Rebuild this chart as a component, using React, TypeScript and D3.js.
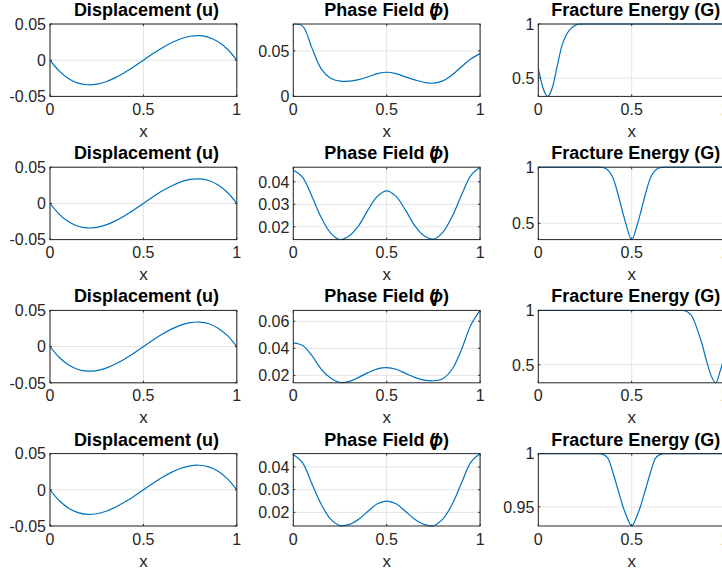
import React from "react";
import * as d3 from "d3";

// ---------- data ----------
const X21 = [0, 0.05, 0.1, 0.15, 0.2, 0.25, 0.3, 0.35, 0.4, 0.45, 0.5, 0.55, 0.6, 0.65, 0.7, 0.75, 0.8, 0.85, 0.9, 0.95, 1];

const U = [0, -0.0151, -0.0255, -0.0316, -0.0339, -0.0331, -0.0297, -0.0241, -0.017, -0.0088, 0, 0.0088, 0.017, 0.0241, 0.0297, 0.0331, 0.0339, 0.0316, 0.0255, 0.0151, 0];
const U_TICKS = [-0.05, 0, 0.05];
const U_LABELS = ["-0.05", "0", "0.05"];

const PHI1 = [0.0795, 0.0772, 0.0530, 0.0300, 0.0200, 0.0168, 0.0168, 0.0185, 0.0215, 0.0250, 0.0265, 0.0250, 0.0215, 0.0182, 0.0155, 0.0145, 0.0170, 0.0235, 0.0325, 0.0410, 0.0470];
const PHI2 = [0.0453, 0.0420, 0.0335, 0.0240, 0.0172, 0.0143, 0.0160, 0.0205, 0.0275, 0.0335, 0.0360, 0.0335, 0.0275, 0.0205, 0.0160, 0.0145, 0.0175, 0.0245, 0.0340, 0.0428, 0.0465];
const PHI3 = [0.0440, 0.0420, 0.0345, 0.0245, 0.0180, 0.0147, 0.0155, 0.0185, 0.0220, 0.0248, 0.0257, 0.0245, 0.0215, 0.0185, 0.0165, 0.0160, 0.0175, 0.0245, 0.0390, 0.0570, 0.0680];
const PHI4 = [0.0455, 0.0418, 0.0325, 0.0235, 0.0170, 0.0142, 0.0147, 0.0170, 0.0205, 0.0238, 0.0250, 0.0238, 0.0205, 0.0170, 0.0147, 0.0141, 0.0170, 0.0235, 0.0328, 0.0420, 0.0459];
const PHI_DOMAINS = [[0, 0.0795], [0.0143, 0.0465], [0.0145, 0.068], [0.014, 0.0459]];
const PHI_TICKS = [[0, 0.05], [0.02, 0.03, 0.04], [0.02, 0.04, 0.06], [0.02, 0.03, 0.04]];
const PHI_LABELS = [["0", "0.05"], ["0.02", "0.03", "0.04"], ["0.02", "0.04", "0.06"], ["0.02", "0.03", "0.04"]];

const G1_X = [0, 0.025, 0.05, 0.075, 0.1, 0.125, 0.15, 0.175, 0.2, 0.225, 0.25, 0.5, 0.75, 1];
const G1_Y = [0.59, 0.41, 0.33, 0.41, 0.6, 0.79, 0.9, 0.96, 0.99, 0.999, 1, 1, 1, 1];
const G2_X = [0, 0.25, 0.325, 0.35, 0.375, 0.4, 0.425, 0.45, 0.475, 0.5, 0.525, 0.55, 0.575, 0.6, 0.625, 0.65, 0.675, 0.75, 1];
const G2_Y = [1, 1, 1, 0.995, 0.97, 0.905, 0.77, 0.61, 0.46, 0.355, 0.46, 0.61, 0.77, 0.905, 0.97, 0.995, 1, 1, 1];
const G3_X = [0, 0.25, 0.5, 0.75, 0.775, 0.8, 0.825, 0.85, 0.875, 0.9, 0.925, 0.95, 0.975, 1];
const G3_Y = [1, 1, 1, 1, 0.999, 0.985, 0.94, 0.83, 0.70, 0.54, 0.40, 0.334, 0.45, 0.60];
const G4_X = [0, 0.25, 0.325, 0.35, 0.375, 0.4, 0.425, 0.45, 0.475, 0.5, 0.525, 0.55, 0.575, 0.6, 0.625, 0.65, 0.675, 0.75, 1];
const G4_Y = [1, 1, 1, 0.999, 0.995, 0.982, 0.967, 0.952, 0.94, 0.932, 0.94, 0.952, 0.967, 0.982, 0.995, 0.999, 1, 1, 1];
const G_DOMAINS = [[0.33, 1], [0.355, 1], [0.334, 1], [0.932, 1]];
const G_TICKS = [[0.5, 1], [0.5, 1], [0.5, 1], [0.95, 1]];
const G_LABELS = [["0.5", "1"], ["0.5", "1"], ["0.5", "1"], ["0.95", "1"]];

const X_TICKS = [0, 0.5, 1];
const X_LABELS = ["0", "0.5", "1"];

// ---------- layout ----------
const COL_LEFT = [50, 293.3, 538.3];
const ROW_TOP = [24, 167.2, 310.4, 453.6];
const AX_W = 186.8;
const AX_H = 72.4;
const FONT = "'Liberation Sans', Arial, Helvetica, sans-serif";
const AX_COLOR = "#262626";
const GRID_COLOR = "#e4e4e4";
const LINE_COLOR = "#0072BD";

type PanelProps = {
  id: string;
  left: number;
  top: number;
  xs: number[];
  ys: number[];
  yDomain: number[];
  yTicks: number[];
  yLabels: string[];
  title: React.ReactNode;
  titleDx: number;
  curve: d3.CurveFactory;
};

function Panel(p: PanelProps) {
  const x = d3.scaleLinear().domain([0, 1]).range([p.left, p.left + AX_W]);
  const y = d3.scaleLinear().domain(p.yDomain as [number, number]).range([p.top + AX_H, p.top]);
  const line = d3
    .line<number>()
    .x((_, i) => x(p.xs[i]))
    .y((d) => y(d))
    .curve(p.curve);
  const bottom = p.top + AX_H;
  const right = p.left + AX_W;
  const tl = 2;
  return (
    <g>
      <defs>
        <clipPath id={p.id}>
          <rect x={p.left} y={p.top - 1} width={AX_W} height={AX_H + 2} />
        </clipPath>
      </defs>
      {/* grid */}
      {X_TICKS.map((t, i) => (
        <line key={"gx" + i} x1={x(t)} x2={x(t)} y1={p.top} y2={bottom} stroke={GRID_COLOR} strokeWidth={1} />
      ))}
      {p.yTicks.map((t, i) => (
        <line key={"gy" + i} x1={p.left} x2={right} y1={y(t)} y2={y(t)} stroke={GRID_COLOR} strokeWidth={1} />
      ))}
      {/* data */}
      <path d={line(p.ys) || ""} fill="none" stroke={LINE_COLOR} strokeWidth={1.2} clipPath={`url(#${p.id})`} />
      {/* box */}
      <rect x={p.left} y={p.top} width={AX_W} height={AX_H} fill="none" stroke={AX_COLOR} strokeWidth={1} />
      {/* ticks */}
      {X_TICKS.map((t, i) => (
        <g key={"tx" + i}>
          <line x1={x(t)} x2={x(t)} y1={bottom} y2={bottom - tl} stroke={AX_COLOR} />
          <line x1={x(t)} x2={x(t)} y1={p.top} y2={p.top + tl} stroke={AX_COLOR} />
        </g>
      ))}
      {p.yTicks.map((t, i) => (
        <g key={"ty" + i}>
          <line x1={p.left} x2={p.left + tl} y1={y(t)} y2={y(t)} stroke={AX_COLOR} />
          <line x1={right} x2={right - tl} y1={y(t)} y2={y(t)} stroke={AX_COLOR} />
        </g>
      ))}
      {/* tick labels */}
      {X_TICKS.map((t, i) => (
        <text key={"lx" + i} x={x(t)} y={bottom + 18.5} textAnchor="middle" fontSize={16} fill={AX_COLOR} fontFamily={FONT}>
          {X_LABELS[i]}
        </text>
      ))}
      {p.yTicks.map((t, i) => (
        <text key={"ly" + i} x={p.left - 4} y={y(t) + 5.8} textAnchor="end" fontSize={16} fill={AX_COLOR} fontFamily={FONT}>
          {p.yLabels[i]}
        </text>
      ))}
      {/* x label */}
      <text x={p.left + AX_W / 2} y={bottom + 40.5} textAnchor="middle" fontSize={17} fill={AX_COLOR} fontFamily={FONT}>
        x
      </text>
      {/* title */}
      <text x={p.left + AX_W / 2 + p.titleDx} y={p.top - 8} textAnchor="middle" fontSize={18} fontWeight="bold" fill="#000" fontFamily={FONT}>
        {p.title}
      </text>
    </g>
  );
}

const PHIS = [PHI1, PHI2, PHI3, PHI4];
const GXS = [G1_X, G2_X, G3_X, G4_X];
const GYS = [G1_Y, G2_Y, G3_Y, G4_Y];

export default function App() {
  const phiTitle = (
    <>
      Phase Field (<tspan dx={-6} fontStyle="italic">ϕ</tspan>)
    </>
  );
  return (
    <svg width={722} height={571} style={{ position: "absolute", left: 0, top: 0, background: "#fff" }}>
      <rect x={0} y={0} width={722} height={571} fill="#fff" />
      {ROW_TOP.map((top, r) => (
        <g key={r}>
          <Panel
            id={`cu${r}`}
            left={COL_LEFT[0]}
            top={top}
            xs={X21}
            ys={U}
            yDomain={[-0.05, 0.05]}
            yTicks={U_TICKS}
            yLabels={U_LABELS}
            title="Displacement (u)"
            titleDx={3}
            curve={d3.curveCatmullRom}
          />
          <Panel
            id={`cp${r}`}
            left={COL_LEFT[1]}
            top={top}
            xs={X21}
            ys={PHIS[r]}
            yDomain={PHI_DOMAINS[r]}
            yTicks={PHI_TICKS[r]}
            yLabels={PHI_LABELS[r]}
            title={phiTitle}
            titleDx={0}
            curve={d3.curveCatmullRom}
          />
          <Panel
            id={`cg${r}`}
            left={COL_LEFT[2]}
            top={top}
            xs={GXS[r]}
            ys={GYS[r]}
            yDomain={G_DOMAINS[r]}
            yTicks={G_TICKS[r]}
            yLabels={G_LABELS[r]}
            title="Fracture Energy (G)"
            titleDx={4}
            curve={d3.curveMonotoneX}
          />
        </g>
      ))}
    </svg>
  );
}
